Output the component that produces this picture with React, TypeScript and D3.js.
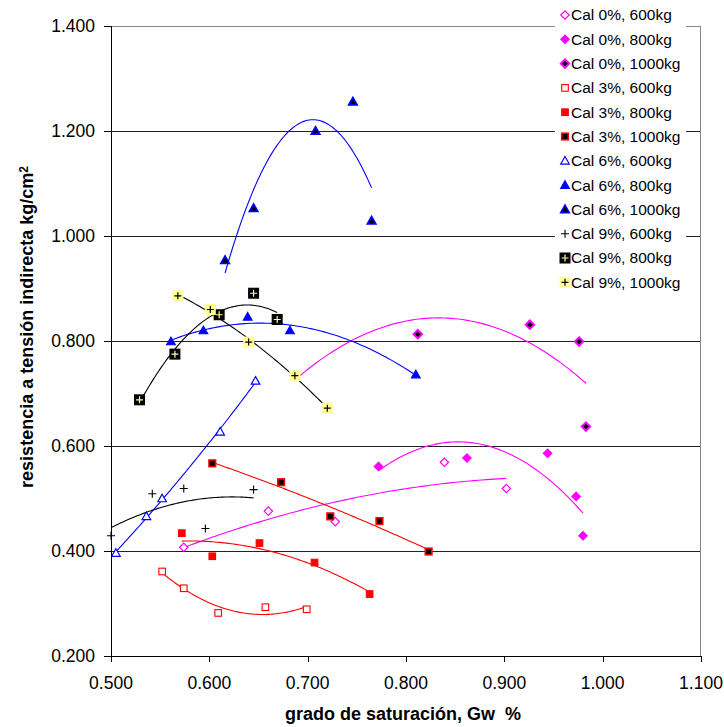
import React, { useMemo } from "react";
import * as d3 from "d3";

const W = 724;
const H = 727;
const M = { top: 26, right: 23, bottom: 71, left: 111 };
const FONT = "'Liberation Sans', Arial, sans-serif";

const xTicks = [0.5, 0.6, 0.7, 0.8, 0.9, 1.0, 1.1];
const yTicks = [0.2, 0.4, 0.6, 0.8, 1.0, 1.2, 1.4];

// [Gw, resistencia kg/cm2]
const cal0_600 = [[0.574, 0.407], [0.660, 0.476], [0.728, 0.456], [0.839, 0.569], [0.902, 0.519]];
const cal0_800 = [[0.772, 0.561], [0.862, 0.577], [0.944, 0.586], [0.973, 0.504], [0.980, 0.429]];
const cal0_1000 = [[0.687, 0.734], [0.812, 0.813], [0.926, 0.831], [0.976, 0.799], [0.983, 0.637]];
const cal3_600 = [[0.552, 0.361], [0.574, 0.329], [0.609, 0.282], [0.657, 0.293], [0.699, 0.289]];
const cal3_800 = [[0.572, 0.434], [0.603, 0.390], [0.651, 0.415], [0.707, 0.378], [0.763, 0.318]];
const cal3_1000 = [[0.603, 0.567], [0.673, 0.531], [0.723, 0.466], [0.773, 0.457], [0.823, 0.399]];
const cal6_600 = [[0.505, 0.396], [0.536, 0.466], [0.552, 0.500], [0.611, 0.627], [0.647, 0.724]];
const cal6_800 = [[0.561, 0.799], [0.594, 0.820], [0.639, 0.846], [0.682, 0.820], [0.810, 0.736]];
const cal6_1000 = [[0.616, 0.954], [0.645, 1.053], [0.708, 1.200], [0.746, 1.256], [0.765, 1.029]];
const cal9_600 = [[0.500, 0.429], [0.542, 0.509], [0.574, 0.519], [0.596, 0.443], [0.645, 0.517]];
const cal9_800 = [[0.529, 0.688], [0.565, 0.775], [0.610, 0.850], [0.645, 0.891], [0.669, 0.841]];
const cal9_1000 = [[0.568, 0.886], [0.601, 0.860], [0.640, 0.798], [0.687, 0.734], [0.720, 0.672]];

const MAG = "#FF00FF";
const RED = "#FF0000";
const BLUE = "#0000FF";
const BLK = "#000000";
const YEL = "#FFFF99";

type Marker = "diamond" | "square" | "triangle" | "plus" | "boxplus";
interface Series {
  name: string;
  data: number[][];
  marker: Marker;
  fill: string;
  stroke: string;
  line: string;
}

const series: Series[] = [
  { name: "Cal 0%, 600kg", data: cal0_600, marker: "diamond", fill: "#fff", stroke: MAG, line: MAG },
  { name: "Cal 0%, 800kg", data: cal0_800, marker: "diamond", fill: MAG, stroke: MAG, line: MAG },
  { name: "Cal 0%, 1000kg", data: cal0_1000, marker: "diamond", fill: BLK, stroke: MAG, line: MAG },
  { name: "Cal 3%, 600kg", data: cal3_600, marker: "square", fill: "#fff", stroke: RED, line: RED },
  { name: "Cal 3%, 800kg", data: cal3_800, marker: "square", fill: RED, stroke: RED, line: RED },
  { name: "Cal 3%, 1000kg", data: cal3_1000, marker: "square", fill: BLK, stroke: RED, line: RED },
  { name: "Cal 6%, 600kg", data: cal6_600, marker: "triangle", fill: "#fff", stroke: BLUE, line: BLUE },
  { name: "Cal 6%, 800kg", data: cal6_800, marker: "triangle", fill: BLUE, stroke: BLUE, line: BLUE },
  { name: "Cal 6%, 1000kg", data: cal6_1000, marker: "triangle", fill: BLK, stroke: BLUE, line: BLUE },
  { name: "Cal 9%, 600kg", data: cal9_600, marker: "plus", fill: "none", stroke: BLK, line: BLK },
  { name: "Cal 9%, 800kg", data: cal9_800, marker: "boxplus", fill: BLK, stroke: YEL, line: BLK },
  { name: "Cal 9%, 1000kg", data: cal9_1000, marker: "boxplus", fill: YEL, stroke: BLK, line: BLK },
];

// least squares polynomial order 2 (Excel trendline)
function fit2(pts: number[][]) {
  const s = [0, 0, 0, 0, 0];
  const t = [0, 0, 0];
  pts.forEach(([x, y]) => {
    for (let k = 0; k < 5; k++) s[k] += Math.pow(x, k);
    for (let k = 0; k < 3; k++) t[k] += y * Math.pow(x, k);
  });
  const A = [
    [s[0], s[1], s[2]],
    [s[1], s[2], s[3]],
    [s[2], s[3], s[4]],
  ];
  const det = (m: number[][]) =>
    m[0][0] * (m[1][1] * m[2][2] - m[1][2] * m[2][1]) -
    m[0][1] * (m[1][0] * m[2][2] - m[1][2] * m[2][0]) +
    m[0][2] * (m[1][0] * m[2][1] - m[1][1] * m[2][0]);
  const D = det(A);
  const coef = [0, 1, 2].map((c) => {
    const m = A.map((row, i) => row.map((v, j) => (j === c ? t[i] : v)));
    return det(m) / D;
  });
  return (x: number) => coef[0] + coef[1] * x + coef[2] * x * x;
}

const MarkerShape = ({ type, fill, stroke, x, y }: { type: Marker; fill: string; stroke: string; x: number; y: number }) => {
  if (type === "diamond") {
    const r = 4.2;
    return (
      <path
        d={`M${x},${y - r}L${x + r},${y}L${x},${y + r}L${x - r},${y}Z`}
        fill={fill}
        stroke={stroke}
        strokeWidth={fill === BLK ? 2 : 1.2}
      />
    );
  }
  if (type === "square") {
    const r = 3.3;
    return <rect x={x - r} y={y - r} width={2 * r} height={2 * r} fill={fill} stroke={stroke} strokeWidth={fill === BLK ? 1.6 : 1.1} />;
  }
  if (type === "triangle") {
    const r = 4.3;
    return (
      <path
        d={`M${x},${y - r}L${x + r},${y + r * 0.75}L${x - r},${y + r * 0.75}Z`}
        fill={fill}
        stroke={stroke}
        strokeWidth={fill === BLK ? 1.6 : 1.2}
      />
    );
  }
  if (type === "plus") {
    const r = 4;
    return <path d={`M${x - r},${y}H${x + r}M${x},${y - r}V${y + r}`} stroke={stroke} strokeWidth={1.1} />;
  }
  const b = 5.5;
  const r = 3.5;
  return (
    <g>
      <rect x={x - b} y={y - b} width={2 * b} height={2 * b} fill={fill} />
      <path d={`M${x - r},${y}H${x + r}M${x},${y - r}V${y + r}`} stroke={stroke} strokeWidth={1.2} />
    </g>
  );
};

export default function App() {
  const x = d3.scaleLinear().domain([0.5, 1.1]).range([M.left, W - M.right]);
  const y = d3.scaleLinear().domain([0.2, 1.4]).range([H - M.bottom, M.top]);

  const trends = useMemo(
    () =>
      series.map((s) => {
        const f = fit2(s.data);
        const [x0, x1] = d3.extent(s.data, (d) => d[0]) as [number, number];
        const xs = d3.range(0, 81).map((i) => x0 + ((x1 - x0) * i) / 80);
        return d3
          .line<number>()
          .x((v) => x(v))
          .y((v) => y(f(v)))(xs);
      }),
    []
  );

  const x0 = M.left;
  const x1 = W - M.right;
  const y0 = H - M.bottom;
  const y1 = M.top;

  return (
    <svg width={W} height={H} style={{ display: "block", position: "absolute", left: 0, top: 0, background: "#fff" }} fontFamily={FONT}>
      <rect width={W} height={H} fill="#fff" />
      {/* gridlines */}
      {yTicks.slice(1, -1).map((t) => (
        <line key={t} x1={x0} x2={x1} y1={Math.round(y(t)) + 0.5} y2={Math.round(y(t)) + 0.5} stroke="#222" strokeWidth={1} />
      ))}
      {/* plot border */}
      <line x1={x0} x2={x1} y1={y1 + 0.5} y2={y1 + 0.5} stroke="#888" />
      <line x1={x1 - 0.5} x2={x1 - 0.5} y1={y1} y2={y0} stroke="#888" />

      {/* trendlines */}
      {trends.map((d, i) => (
        <path key={i} d={d || ""} fill="none" stroke={series[i].line} strokeWidth={1.1} />
      ))}

      {/* markers */}
      {series.map((s, i) => (
        <g key={i}>
          {s.data.map((d, j) => (
            <MarkerShape key={j} type={s.marker} fill={s.fill} stroke={s.stroke} x={x(d[0])} y={y(d[1])} />
          ))}
        </g>
      ))}

      {/* axes */}
      <line x1={x0 + 0.5} x2={x0 + 0.5} y1={y1} y2={y0 + 0.5} stroke="#000" />
      <line x1={x0} x2={x1} y1={y0 + 0.5} y2={y0 + 0.5} stroke="#000" />
      {yTicks.map((t) => (
        <g key={t}>
          <line x1={x0 - 7} x2={x0} y1={Math.round(y(t)) + 0.5} y2={Math.round(y(t)) + 0.5} stroke="#000" />
          <text x={x0 - 16} y={y(t)} dy="0.35em" textAnchor="end" fontSize={17.5}>
            {d3.format(".3f")(t)}
          </text>
        </g>
      ))}
      {xTicks.map((t) => (
        <g key={t}>
          <line x1={Math.round(x(t)) + 0.5} x2={Math.round(x(t)) + 0.5} y1={y0} y2={y0 + 6} stroke="#000" />
          <text x={x(t)} y={y0 + 27} dy="0.35em" textAnchor="middle" fontSize={17.5}>
            {d3.format(".3f")(t)}
          </text>
        </g>
      ))}

      {/* axis titles */}
      <text x={403} y={720} textAnchor="middle" fontSize={18} fontWeight="bold" style={{ whiteSpace: "pre" }}>
        {"grado de saturación, Gw  %"}
      </text>
      <text transform={`translate(27,327) rotate(-90)`} textAnchor="middle" dy="0.35em" fontSize={18} fontWeight="bold">
        resistencia a tensión indirecta kg/cm
        <tspan dy="-0.45em" fontSize={12}>2</tspan>
      </text>

      {/* legend */}
      <rect x={555} y={2} width={131} height={292} fill="#fff" />
      {series.map((s, i) => {
        const ly = 15 + i * 24.3;
        return (
          <g key={s.name}>
            <MarkerShape type={s.marker} fill={s.fill} stroke={s.stroke} x={565} y={ly} />
            <text x={571} y={ly} dy="0.35em" fontSize={15.5}>
              {s.name}
            </text>
          </g>
        );
      })}
    </svg>
  );
}
